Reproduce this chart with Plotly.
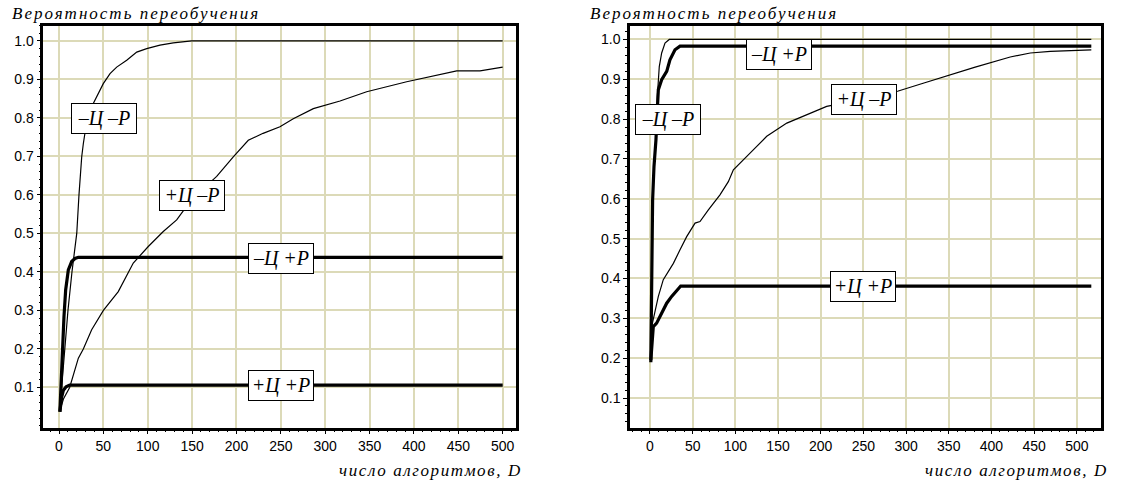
import plotly.graph_objects as go

# ---------------- data ----------------
labels = ["–Ц –Р", "+Ц –Р", "–Ц +Р", "+Ц +Р"]

# left panel
L_cm_x = [1, 3, 6.8, 10.1, 14.6, 20, 22.5, 23.7, 25.6, 27.4, 31.9, 36.8, 42.5, 49.9, 57.5, 65, 76.3, 87.6, 98.8, 113.8, 128.8, 149.5, 500]
L_cm_y = [0.045, 0.1, 0.2, 0.3, 0.4, 0.5, 0.6, 0.64, 0.699, 0.733, 0.8, 0.829, 0.855, 0.889, 0.915, 0.932, 0.95, 0.971, 0.98, 0.989, 0.995, 1.0, 1.0]

L_pm_x = [1, 5, 12, 17, 21.8, 27.4, 36.8, 50, 66.8, 83.7, 100.6, 117.5, 132.6, 150, 177.7, 196.4, 213.3, 230, 249, 264, 286.6, 316.7, 346.7, 391.8, 433.1, 448.2, 474.5, 500]
L_pm_y = [0.04, 0.07, 0.1, 0.14, 0.176, 0.2, 0.25, 0.3, 0.349, 0.423, 0.466, 0.505, 0.535, 0.59, 0.648, 0.699, 0.742, 0.76, 0.777, 0.798, 0.824, 0.844, 0.868, 0.894, 0.915, 0.922, 0.922, 0.932]

L_cp_x = [1, 3, 5.6, 7.5, 10.5, 14.3, 18, 21.8, 500]
L_cp_y = [0.037, 0.154, 0.284, 0.353, 0.405, 0.427, 0.435, 0.438, 0.438]

L_pp_x = [1, 3, 5, 8, 12, 500]
L_pp_y = [0.037, 0.075, 0.093, 0.102, 0.106, 0.106]

# right panel
R_cm_x = [1, 2, 3.1, 4.7, 7, 8.6, 10.9, 13.7, 17.6, 22.6, 517]
R_cm_y = [0.25, 0.52, 0.6, 0.68, 0.75, 0.857, 0.932, 0.966, 0.991, 1.0, 1.0]

R_cp_x = [1, 2, 3.1, 4.7, 7, 8.6, 9.8, 13.7, 19.6, 23.4, 29.3, 35.2, 517]
R_cp_y = [0.19, 0.52, 0.597, 0.681, 0.748, 0.824, 0.874, 0.899, 0.92, 0.949, 0.974, 0.983, 0.983]

R_pm_x = [1, 3.9, 9.8, 15.6, 27.4, 35.2, 43, 52.8, 58.6, 68.4, 76.2, 82, 91.8, 97.7, 121, 136.8, 160.3, 183.7, 207, 250, 290, 320, 350, 380, 422, 445.5, 469, 517]
R_pm_y = [0.27, 0.296, 0.355, 0.397, 0.438, 0.472, 0.505, 0.539, 0.543, 0.572, 0.593, 0.61, 0.643, 0.673, 0.723, 0.757, 0.79, 0.811, 0.832, 0.85, 0.87, 0.89, 0.91, 0.93, 0.956, 0.966, 0.97, 0.974]

R_pp_x = [1, 3.9, 7.8, 13.7, 19.6, 25.4, 33.2, 36, 517]
R_pp_y = [0.195, 0.279, 0.288, 0.313, 0.338, 0.355, 0.376, 0.381, 0.381]

# label anchor positions (data coords)
L_lab_x = [50.7, 150.4, 250, 250]
L_lab_y = [0.798, 0.599, 0.436, 0.106]
R_lab_x = [21.5, 251, 150.6, 250]
R_lab_y = [0.798, 0.849, 0.962, 0.381]

x_ticks = [0, 50, 100, 150, 200, 250, 300, 350, 400, 450, 500]
y_ticks = [0.1, 0.2, 0.3, 0.4, 0.5, 0.6, 0.7, 0.8, 0.9, 1.0]

ytitle = "Вероятность переобучения"
xtitle = "число алгоритмов, D"

# ---------------- figure ----------------
THIN = 1.2
THICK = 3.2
fig = go.Figure()

def add(x, y, w, xa, ya):
    fig.add_trace(go.Scatter(x=x, y=y, mode="lines", line=dict(color="black", width=w),
                             xaxis=xa, yaxis=ya, showlegend=False, hoverinfo="skip"))

add(L_cm_x, L_cm_y, THIN, "x", "y")
add(L_pm_x, L_pm_y, THIN, "x", "y")
add(L_cp_x, L_cp_y, THICK, "x", "y")
add(L_pp_x, L_pp_y, THICK, "x", "y")
add(R_cm_x, R_cm_y, THIN, "x2", "y2")
add(R_pm_x, R_pm_y, THIN, "x2", "y2")
add(R_cp_x, R_cp_y, THICK, "x2", "y2")
add(R_pp_x, R_pp_y, THICK, "x2", "y2")

grid = "#dcdab8"
tickfont = dict(family="Liberation Sans", size=14, color="black")

def xaxis(domain, rng, anchor):
    return dict(domain=domain, range=rng, anchor=anchor, tickvals=x_ticks,
                showgrid=True, gridcolor=grid, gridwidth=1.5, zeroline=False,
                showline=True, linecolor="black", linewidth=2.5, mirror=True,
                ticks="outside", ticklen=4, tickcolor="black", tickwidth=1,
                minor=dict(dtick=10, tick0=0, ticks="outside", ticklen=2, tickcolor="black", showgrid=False),
                tickfont=tickfont, fixedrange=True)

def yaxis(domain, rng, anchor):
    return dict(domain=domain, range=rng, anchor=anchor, tickvals=y_ticks, tickformat=".1f",
                showgrid=True, gridcolor=grid, gridwidth=1.5, zeroline=False,
                showline=True, linecolor="black", linewidth=2.5, mirror=True,
                ticks="outside", ticklen=4, tickcolor="black", tickwidth=1,
                minor=dict(dtick=0.02, tick0=0, ticks="outside", ticklen=2, tickcolor="black", showgrid=False),
                tickfont=tickfont, fixedrange=True)

ydom = [1 - 427.5 / 488, 1 - 25.5 / 488]
fig.update_layout(
    width=1125, height=488,
    margin=dict(l=0, r=0, t=0, b=0),
    paper_bgcolor="white", plot_bgcolor="white",
    xaxis=xaxis([43.3 / 1125, 516 / 1125], [-17.7, 515], "y"),
    yaxis=yaxis(ydom, [-0.004, 1.04], "x"),
    xaxis2=xaxis([630 / 1125, 1100.7 / 1125], [-23.4, 528], "y2"),
    yaxis2=yaxis(ydom, [0.026, 1.035], "x2"),
)

serif = "Liberation Serif"
anns = []
for xs, ys, xr, yr in [(L_lab_x, L_lab_y, "x", "y"), (R_lab_x, R_lab_y, "x2", "y2")]:
    for t, ax_, ay_ in zip(labels, xs, ys):
        anns.append(dict(x=ax_, y=ay_, xref=xr, yref=yr, text="<i>" + t + "</i>",
                         showarrow=False, font=dict(family=serif, size=20, color="black"),
                         bgcolor="white", bordercolor="black", borderwidth=1, borderpad=2,
                         width=60, height=25, align="center"))

for x0 in [10 / 1125, 588 / 1125]:
    anns.append(dict(x=x0, y=1 - 13 / 488, xref="paper", yref="paper", xanchor="left", yanchor="middle",
                     text='<i><span style="letter-spacing:2px">' + ytitle + '</span></i>', showarrow=False,
                     font=dict(family=serif, size=17, color="black")))
for x1 in [524 / 1125, 1110 / 1125]:
    anns.append(dict(x=x1, y=1 - 470 / 488, xref="paper", yref="paper", xanchor="right", yanchor="middle",
                     text='<i><span style="letter-spacing:1.6px">' + xtitle + '</span></i>', showarrow=False,
                     font=dict(family=serif, size=17, color="black")))

fig.update_layout(annotations=anns)
fig.write_html("out.html", config={"displayModeBar": False},
               post_script="document.body.style.margin='0';document.body.style.padding='0';")
